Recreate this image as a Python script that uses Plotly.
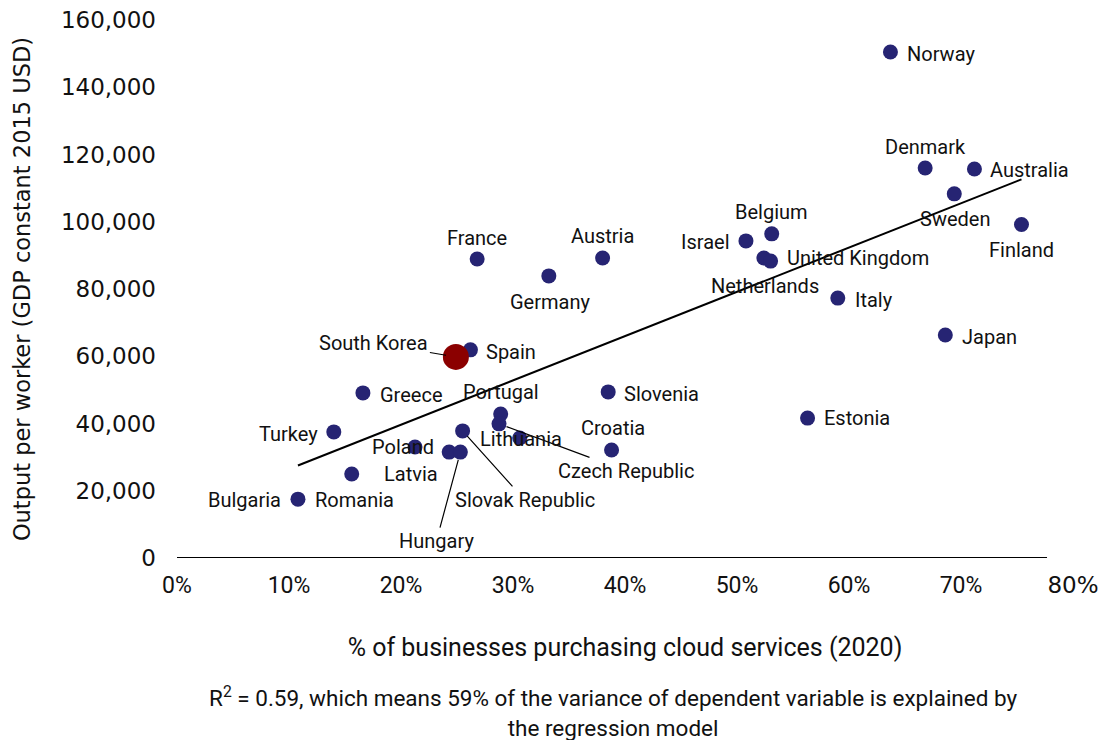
import numpy as np
import plotly.graph_objects as go

# Share of businesses purchasing cloud services (2020, %) and output per worker
countries = [
    "Norway", "Denmark", "Australia", "Sweden", "Finland", "Belgium", "Israel",
    "Netherlands", "United Kingdom", "Italy", "Japan", "Estonia", "Slovenia",
    "Croatia", "Austria", "France", "Germany", "Spain", "South Korea", "Greece",
    "Portugal", "Czech Republic", "Lithuania", "Slovak Republic", "Turkey",
    "Poland", "Latvia", "Hungary", "Romania", "Bulgaria",
]
cloud_pct = [
    63.7, 66.8, 71.2, 69.4, 75.4, 53.1, 50.8,
    52.4, 53.0, 59.0, 68.6, 56.3, 38.5,
    38.8, 38.0, 26.8, 33.2, 26.2, 24.9, 16.6,
    28.9, 28.75, 30.6, 25.5, 14.0,
    21.25, 24.3, 25.3, 15.6, 10.8,
]
output_per_worker = [
    150500, 116000, 115700, 108300, 99200, 96400, 94300,
    89200, 88300, 77300, 66300, 41600, 49400,
    32100, 89200, 88900, 83900, 61900, 59800, 49100,
    42800, 39900, 35700, 37800, 37500,
    33000, 31500, 31500, 25000, 17500,
]
highlight = "South Korea"

x_ticks = [0, 10, 20, 30, 40, 50, 60, 70, 80]
y_ticks = [0, 20000, 40000, 60000, 80000, 100000, 120000, 140000, 160000]

NAVY = "#262473"
RED = "#8B0000"
TEXT = "#111111"
NARROW = "Roboto, Liberation Sans, sans-serif"
WIDE = "DejaVu Sans, sans-serif"
LABEL_FONT = dict(family=NARROW, size=20, color=TEXT)

# label placement: (xanchor, xshift px, yshift px)
placement = {
    "Norway": ("left", 15, -2),
    "Denmark": ("center", 0, 21),
    "Australia": ("left", 14, -1),
    "Sweden": ("center", 1, -25),
    "Finland": ("center", 0, -26),
    "Belgium": ("center", 0, 22),
    "Israel": ("right", -14, -1),
    "Netherlands": ("center", 1, -28),
    "United Kingdom": ("left", 14, 3),
    "Italy": ("left", 15, -2),
    "Japan": ("left", 15, -2),
    "Estonia": ("left", 14, 0),
    "Slovenia": ("left", 14, -2),
    "Croatia": ("center", 1, 22),
    "Austria": ("center", 0, 22),
    "France": ("center", 0, 21),
    "Germany": ("center", 1, -26),
    "Spain": ("left", 14, -2),
    "Greece": ("left", 15, -2),
    "Portugal": ("center", 0, 22),
    "Lithuania": ("center", 1, -1),
    "Turkey": ("right", -14, -2),
    "Poland": ("right", 21, 0),
    "Latvia": ("center", -38, -22),
    "Romania": ("left", -39, -26),
    "Bulgaria": ("right", -15, -1),
}
# labels joined to their point by a leader line: (ax, ay, standoff)
leaders = {
    "South Korea": (-82, -14, 10),
    "Slovak Republic": (62, 69, 7),
    "Czech Republic": (127, 47, 8),
    "Hungary": (-24, 89, 8),
}

x_arr = np.array(cloud_pct)
y_arr = np.array(output_per_worker)
slope, intercept = np.polyfit(x_arr, y_arr, 1)
x_line = np.array([x_arr.min(), x_arr.max()])
y_line = slope * x_line + intercept

fig = go.Figure()

fig.add_trace(go.Scatter(
    x=x_line, y=y_line, mode="lines",
    line=dict(color="black", width=2), hoverinfo="skip", showlegend=False,
))

others = [i for i, c in enumerate(countries) if c != highlight]
fig.add_trace(go.Scatter(
    x=[cloud_pct[i] for i in others],
    y=[output_per_worker[i] for i in others],
    text=[countries[i] for i in others],
    mode="markers",
    marker=dict(color=NAVY, size=15, line=dict(width=0)),
    showlegend=False,
))
hi = countries.index(highlight)
fig.add_trace(go.Scatter(
    x=[cloud_pct[hi]], y=[output_per_worker[hi]], text=[highlight],
    mode="markers",
    marker=dict(color=RED, size=26, line=dict(width=0)),
    showlegend=False,
))

annotations = []
for name, xv, yv in zip(countries, cloud_pct, output_per_worker):
    if name in leaders:
        ax, ay, so = leaders[name]
        annotations.append(dict(
            x=xv, y=yv, xref="x", yref="y", text=name, showarrow=True,
            arrowhead=0, arrowwidth=1.2, arrowcolor="black", ax=ax, ay=ay,
            standoff=so, font=LABEL_FONT,
        ))
    else:
        anchor, dx, dy = placement[name]
        annotations.append(dict(
            x=xv, y=yv, xref="x", yref="y", text=name, showarrow=False,
            xanchor=anchor, yanchor="middle", xshift=dx, yshift=dy,
            font=LABEL_FONT,
        ))

# regression note under the chart
annotations.append(dict(
    x=0.487, y=-0.226, xref="paper", yref="paper",
    text="R<sup>2</sup> = 0.59, which means 59% of the variance of dependent variable is explained by<br>the regression model",
    showarrow=False, xanchor="center", yanchor="top", align="center",
    font=dict(family=NARROW, size=22.5, color=TEXT),
))

tick_text = [f"{v}%" for v in x_ticks]
tick_text[-1] = f'<span style="font-family:DejaVu Sans;font-size:23px">{x_ticks[-1]}%</span>'

fig.update_layout(
    width=1102, height=740,
    margin=dict(l=177, r=29, t=20, b=182),
    paper_bgcolor="white", plot_bgcolor="white",
    annotations=annotations,
    shapes=[dict(type="line", xref="paper", yref="y", x0=0, x1=0.971, y0=0, y1=0,
                 line=dict(color="black", width=2), layer="below")],
    font=dict(family=NARROW, color=TEXT),
)
fig.update_xaxes(
    range=[0, 80], tickvals=x_ticks, ticktext=tick_text,
    showgrid=False, zeroline=False, showline=False, automargin=False,
    ticks="", tickfont=dict(family=NARROW, size=23, color=TEXT),
    ticklabelstandoff=11,
    title=dict(text="% of businesses purchasing cloud services (2020)",
               font=dict(family=NARROW, size=25, color=TEXT),
               standoff=40),
)
fig.update_yaxes(
    range=[0, 160000], tickvals=y_ticks, tickformat=",d",
    showgrid=False, zeroline=False, showline=False, ticks="", automargin=False,
    tickfont=dict(family=WIDE, size=23, color=TEXT),
    ticklabelstandoff=20,
    title=dict(text="Output per worker (GDP constant 2015 USD)",
               font=dict(family=WIDE, size=22.5, color=TEXT),
               standoff=24),
)

fig.write_html("out.html")
